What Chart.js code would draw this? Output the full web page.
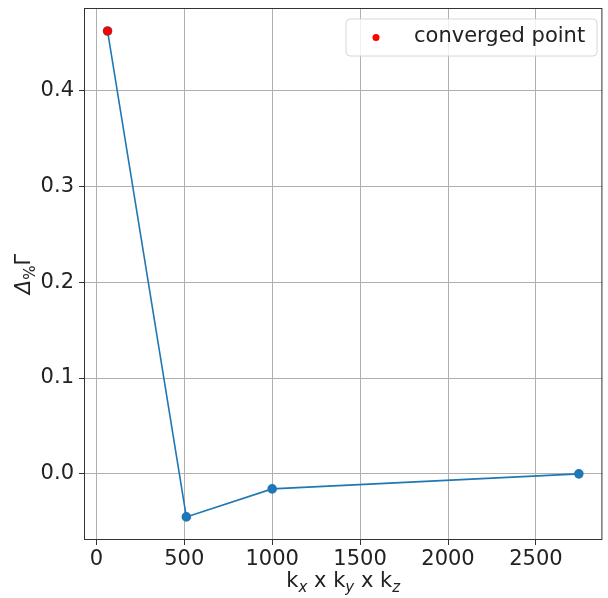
<!DOCTYPE html>
<html>
<head>
<meta charset="utf-8">
<script src="https://cdn.jsdelivr.net/npm/chart.js@4.4.0/dist/chart.umd.min.js"></script>
<style>
  html, body { margin: 0; padding: 0; background: #fff; }
  #wrap { width: 608px; height: 598px; }
</style>
</head>
<body>
<div id="wrap"><canvas id="c" width="608" height="598"></canvas></div>
<script>
// k-point grid sizes and relative change
const kPoints = [64, 512, 1000, 2744];
const deltaGamma = [0.462, -0.0449, -0.0157, 0.0];
const convergedX = [64];
const convergedY = [0.462];
const xTicks = [0, 500, 1000, 1500, 2000, 2500];
const yTicks = [0.0, 0.1, 0.2, 0.3, 0.4];
const legendLabel = 'converged point';

const FONT = '"DejaVu Sans", sans-serif';
const FS = 21;

// axis titles with sub-scripts, frame and matplotlib-like legend
const decorations = {
  id: 'decorations',
  afterDraw(chart) {
    const ctx = chart.ctx;
    const a = chart.chartArea;
    ctx.save();

    // frame
    ctx.strokeStyle = '#333';
    ctx.lineWidth = 1;
    ctx.strokeRect(a.left + 0.5, a.top + 0.5, a.right - a.left - 1, a.bottom - a.top - 1);

    // x title: k_x x k_y x k_z
    const parts = [
      ['k', FS, false, 0], ['x', 15, true, 5], [' x k', FS, false, 0], ['y', 15, true, 5],
      [' x k', FS, false, 0], ['z', 15, true, 5]
    ];
    let total = 0;
    parts.forEach(p => {
      ctx.font = (p[2] ? 'italic ' : '') + p[1] + 'px ' + FONT;
      total += ctx.measureText(p[0]).width;
    });
    let x = (a.left + a.right) / 2 - total / 2;
    ctx.fillStyle = '#222';
    ctx.textBaseline = 'alphabetic';
    ctx.textAlign = 'left';
    parts.forEach(p => {
      ctx.font = (p[2] ? 'italic ' : '') + p[1] + 'px ' + FONT;
      ctx.fillText(p[0], x, 587 + p[3]);
      x += ctx.measureText(p[0]).width;
    });

    // y title: Δ_% Γ (rotated)
    ctx.translate(30, (a.top + a.bottom) / 2);
    ctx.rotate(-Math.PI / 2);
    const yparts = [['Δ', FS, true, 0], ['%', 15, false, 5], ['Γ', FS, false, 0]];
    total = 0;
    yparts.forEach(p => {
      ctx.font = (p[2] ? 'italic ' : '') + p[1] + 'px ' + FONT;
      total += ctx.measureText(p[0]).width;
    });
    x = -total / 2;
    yparts.forEach(p => {
      ctx.font = (p[2] ? 'italic ' : '') + p[1] + 'px ' + FONT;
      ctx.fillText(p[0], x, p[3]);
      x += ctx.measureText(p[0]).width;
    });
    ctx.restore();

    // legend box
    ctx.save();
    const bx = 346, by = 19, bw = 251, bh = 37, r = 4;
    ctx.beginPath();
    ctx.moveTo(bx + r, by);
    ctx.arcTo(bx + bw, by, bx + bw, by + bh, r);
    ctx.arcTo(bx + bw, by + bh, bx, by + bh, r);
    ctx.arcTo(bx, by + bh, bx, by, r);
    ctx.arcTo(bx, by, bx + bw, by, r);
    ctx.closePath();
    ctx.fillStyle = 'rgba(255,255,255,0.8)';
    ctx.fill();
    ctx.strokeStyle = '#d6d6d6';
    ctx.lineWidth = 1;
    ctx.stroke();
    ctx.beginPath();
    ctx.arc(376, 37.5, 3.5, 0, Math.PI * 2);
    ctx.fillStyle = 'red';
    ctx.fill();
    ctx.fillStyle = '#222';
    ctx.font = FS + 'px ' + FONT;
    ctx.textBaseline = 'middle';
    ctx.fillText(legendLabel, 414, 37);
    ctx.restore();
  }
};

new Chart(document.getElementById('c'), {
  type: 'scatter',
  data: {
    datasets: [
      {
        label: legendLabel,
        data: convergedX.map((x, i) => ({ x: x, y: convergedY[i] })),
        backgroundColor: 'red',
        borderColor: 'red',
        pointRadius: 4,
        showLine: false,
        order: 0
      },
      {
        label: 'delta',
        data: kPoints.map((x, i) => ({ x: x, y: deltaGamma[i] })),
        borderColor: '#1f77b4',
        backgroundColor: '#1f77b4',
        borderWidth: 1.6,
        pointRadius: 4,
        showLine: true,
        tension: 0,
        order: 1
      }
    ]
  },
  options: {
    responsive: false,
    animation: false,
    layout: { padding: { left: 0, right: -3, top: 8, bottom: 0 } },
    plugins: { legend: { display: false }, tooltip: { enabled: false } },
    scales: {
      x: {
        type: 'linear',
        min: -70,
        max: 2878,
        afterBuildTicks: s => { s.ticks = xTicks.map(v => ({ value: v })); },
        afterFit: s => { s.height = 58; s.paddingLeft = 0; s.paddingRight = 0; },
        grid: { color: '#b0b0b0', lineWidth: 1, tickLength: 5, tickColor: '#333' },
        border: { display: false },
        ticks: { color: '#222', font: { family: FONT, size: FS }, padding: 2, maxRotation: 0,
          callback: v => String(v) }
      },
      y: {
        min: -0.069,
        max: 0.486,
        afterBuildTicks: s => { s.ticks = yTicks.map(v => ({ value: v })); },
        afterFit: s => { s.width = 84; s.paddingTop = 0; s.paddingBottom = 0; },
        grid: { color: '#b0b0b0', lineWidth: 1, tickLength: 5, tickColor: '#333' },
        border: { display: false },
        ticks: { color: '#222', font: { family: FONT, size: FS }, padding: 5,
          callback: v => v.toFixed(1) }
      }
    }
  },
  plugins: [decorations]
});
</script>
</body>
</html>
